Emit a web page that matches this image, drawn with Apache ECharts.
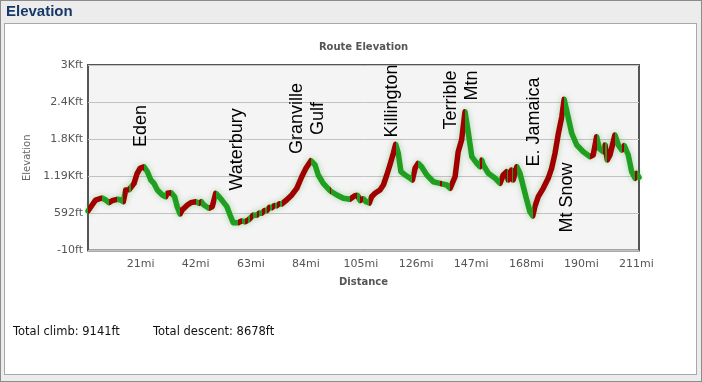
<!DOCTYPE html>
<html>
<head>
<meta charset="utf-8">
<script src="https://cdn.jsdelivr.net/npm/echarts/dist/echarts.min.js"></script>
<style>
  html, body { margin: 0; padding: 0; background: #fff; }
  #frame { position: absolute; left: 0; top: 0; width: 702px; height: 382px; box-sizing: border-box;
           border: 1px solid #8c8c8c; background: #ececec; }
  #panel { position: absolute; left: 4px; top: 23px; width: 693px; height: 352px; box-sizing: border-box;
           border: 1px solid #a8a8a8; background: #fff; }
  #chart { position: absolute; left: 0; top: 0; width: 702px; height: 382px; }
</style>
</head>
<body>
<div id="frame"></div>
<div id="panel"></div>
<div id="chart"></div>
<script>
// ---- data ----
const distMi = [
  0, 2.9, 5.3, 6.8, 8.0, 9.2, 11.2, 12.5, 13.5, 14.4, 15.7, 16.3, 17.6, 18.8, 19.9, 21.4,
  22.7, 24.0, 25.2, 26.5, 28.4, 29.7, 30.3, 31.8, 33.1, 34.1, 35.2, 36.0, 38.0, 39.3, 41.2,
  42.4, 43.3, 44.3, 46.2, 47.5, 48.8, 50.1, 51.3, 53.1, 54.3, 55.5, 57.4, 58.7, 60.0, 61.3,
  62.0, 63.2, 64.5, 65.5, 66.4, 67.5, 68.3, 69.4, 70.2, 71.3, 72.1, 73.2, 74.0, 75.9, 77.9,
  79.8, 81.7, 83.3, 85.2, 86.8, 88.0, 89.9, 92.5, 93.0, 95.1, 97.6, 100.1, 102.0, 103.0,
  104.0, 105.2, 106.3, 107.5, 108.4, 109.7, 111.6, 112.9, 114.2, 115.4, 116.7, 117.6, 118.6,
  119.6, 121.2, 123.1, 124.0, 125.0, 126.2, 127.5, 129.5, 132.0, 134.5, 135.2, 137.1, 138.4,
  140.3, 141.5, 142.8, 144.1, 145.4, 146.7, 148.6, 149.8, 150.5, 151.1, 153.0, 155.6, 157.5,
  158.7, 160.0, 160.6, 161.9, 162.5, 163.9, 165.1, 166.4, 167.7, 168.9, 170.0, 170.8, 172.1,
  174.0, 175.9, 177.2, 178.5, 179.8, 181.1, 182.0, 183.2, 184.9, 186.8, 189.3, 191.9, 193.1,
  194.4, 195.4, 196.9, 197.6, 198.5, 199.5, 201.4, 202.7, 204.0, 205.0, 206.5, 207.8, 209.1,
  209.7, 210.6
];
const elevFt = [
  631, 809, 842, 809, 766, 798, 821, 809, 782, 972, 975, 965, 1080, 1243, 1324, 1350,
  1269, 1134, 1080, 972, 891, 863, 918, 928, 863, 701, 582, 647, 728, 766, 782,
  756, 782, 728, 675, 701, 918, 863, 800, 701, 566, 441, 441, 470, 457, 485,
  478, 566, 560, 600, 594, 640, 634, 690, 684, 720, 714, 750, 745, 809, 891,
  999, 1187, 1324, 1447, 1377, 1215, 1080, 960, 975, 891, 837, 821, 880, 885,
  800, 830, 780, 760, 863, 918, 972, 1053, 1215, 1377, 1567, 1713, 1567,
  1269, 1215, 1162, 1134, 1324, 1405, 1350, 1215, 1106, 1080, 1106, 1053, 999,
  1187, 1593, 1783, 2242, 1892, 1512, 1405, 1350, 1458, 1377, 1243, 1162, 1080,
  1215, 1269, 1134, 1296, 1134, 1350, 1243, 1025, 809, 620, 550, 701, 863,
  999, 1162, 1324, 1567, 1892, 2161, 2443, 2216, 1892, 1702, 1593, 1512, 1540,
  1837, 1648, 1593, 1702, 1458, 1540, 1864, 1702, 1620, 1690, 1540, 1269, 1162,
  1243, 1178
];
const xTickLabels = ['21mi', '42mi', '63mi', '84mi', '105mi', '126mi', '147mi', '168mi', '190mi', '211mi'];
const yTickLabels = ['-10ft', '592ft', '1.19Kft', '1.8Kft', '2.4Kft', '3Kft'];
const annotationText = ['Eden', 'Waterbury', 'Granville\nGulf', 'Killington', 'Terrible\nMtn', 'E. Jamaica', 'Mt Snow'];
const annotationMi = [20.6, 57.3, 84.1, 116.4, 142.9, 170.7, 183.1];
const annotationFt = [1661, 955, 2124, 1815, 2903, 1345, 274];
const annotationAlign = ['left', 'left', 'center', 'left', 'right', 'left', 'left'];
const totalClimbFt = 9141;
const totalDescentFt = 8678;

// ---- axis setup ----
const Y_MIN = -10, Y_STEP = 602, Y_OFFSET = 10;   // ticks at -10, 592, 1194 ...
const X_MAX = 210.6, X_STEP = X_MAX / 10;
const RED = '#a10000', GREEN = '#1f9e1f';

// colour pieces: red where climbing, green otherwise
const pieces = [];
for (let i = 0; i < distMi.length - 1; i++) {
  const color = elevFt[i + 1] > elevFt[i] ? RED : GREEN;
  const last = pieces[pieces.length - 1];
  if (last && last.color === color) { last.lt = distMi[i + 1]; }
  else pieces.push({ gte: distMi[i], lt: distMi[i + 1], color: color });
}
pieces[pieces.length - 1].lte = pieces[pieces.length - 1].lt;
delete pieces[pieces.length - 1].lt;

const chart = echarts.init(document.getElementById('chart'), null, { renderer: 'canvas' });
const FONT = 'DejaVu Sans, Verdana, sans-serif';

chart.setOption({
  backgroundColor: 'transparent',
  animation: false,
  graphic: [
    { type: 'text', x: 6, y: 12, style: { text: 'Elevation', fill: '#17396a', font: 'bold 15px Liberation Sans', textVerticalAlign: 'middle' } },
    { type: 'text', x: 363.5, y: 47, style: { text: 'Route Elevation', fill: '#555', font: 'bold 10px DejaVu Sans', textAlign: 'center', textVerticalAlign: 'middle' } },
    { type: 'text', x: 13, y: 332, style: { text: 'Total climb: ' + totalClimbFt + 'ft', fill: '#111', font: '11.5px DejaVu Sans', textVerticalAlign: 'middle' } },
    { type: 'text', x: 153, y: 332, style: { text: 'Total descent: ' + totalDescentFt + 'ft', fill: '#111', font: '11.5px DejaVu Sans', textVerticalAlign: 'middle' } }
  ],
  grid: {
    left: 88, top: 65, width: 551, height: 185.5,
    show: true, backgroundColor: '#f4f4f4', borderColor: '#555', borderWidth: 2
  },
  visualMap: {
    type: 'piecewise', show: false, dimension: 0, seriesIndex: 0,
    pieces: pieces, outOfRange: { color: GREEN }
  },
  xAxis: {
    type: 'value', min: 0, max: X_MAX, interval: X_STEP,
    name: 'Distance', nameLocation: 'middle', nameGap: 27,
    nameTextStyle: { fontFamily: FONT, fontSize: 10, fontWeight: 'bold', color: '#555' },
    axisLine: { show: false }, axisTick: { show: false }, splitLine: { show: false },
    axisLabel: {
      fontFamily: FONT, fontSize: 11, color: '#555', margin: 8, showMinLabel: false,
      padding: [0, 5, 0, 0],
      formatter: v => { const k = Math.round(v / X_STEP); return k > 0 ? xTickLabels[k - 1] : ''; }
    }
  },
  yAxis: {
    type: 'value', min: Y_MIN + Y_OFFSET, max: Y_MIN + Y_OFFSET + 5 * Y_STEP, interval: Y_STEP,
    name: 'Elevation', nameLocation: 'middle', nameGap: 54, nameRotate: 90,
    nameTextStyle: { fontFamily: FONT, fontSize: 10, color: '#666' },
    axisLine: { show: false }, axisTick: { show: false },
    splitLine: { show: true, lineStyle: { color: '#c2c2c2', width: 1 } },
    axisLabel: {
      fontFamily: FONT, fontSize: 11, color: '#555', margin: 5,
      formatter: v => yTickLabels[Math.round(v / Y_STEP)]
    }
  },
  series: [{
    type: 'line',
    data: distMi.map((d, i) => [d, elevFt[i] + Y_OFFSET]),
    showSymbol: false,
    lineStyle: { width: 5.5, cap: 'round', join: 'round', shadowBlur: 6, shadowColor: 'rgba(40,150,40,0.35)' },
    z: 3,
    markPoint: {
      symbol: 'circle', symbolSize: 1,
      itemStyle: { color: 'rgba(0,0,0,0)' },
      silent: true,
      data: annotationText.map((t, i) => ({
        coord: [annotationMi[i], annotationFt[i] + Y_OFFSET],
        label: {
          show: true, formatter: t, rotate: 90, position: [0, 0],
          align: annotationAlign[i], verticalAlign: 'middle',
          color: '#000', fontFamily: 'Liberation Sans, Arial, sans-serif', fontSize: 18, lineHeight: 21
        }
      }))
    }
  }]
});
</script>
</body>
</html>
